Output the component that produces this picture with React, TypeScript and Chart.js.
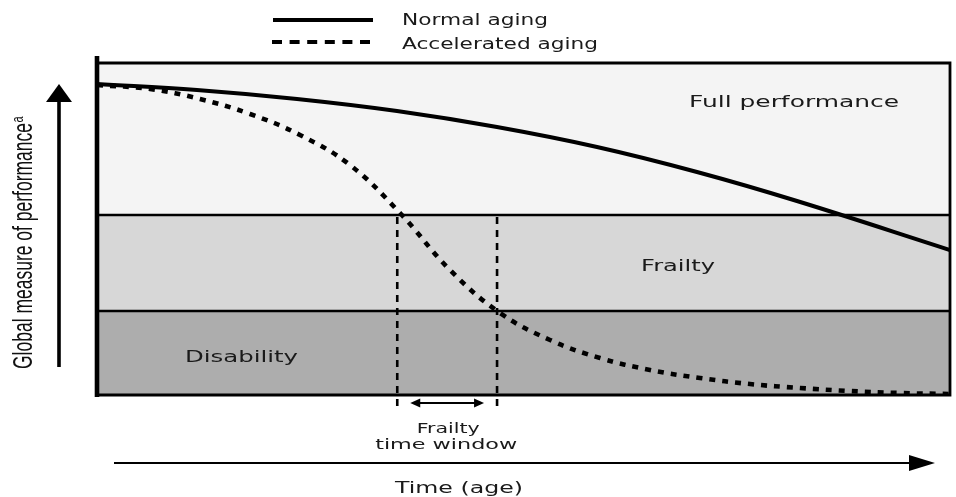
import { useEffect, useRef } from "react";
import { Chart, registerables } from "chart.js";

Chart.register(...registerables);

// ---- Data (x: relative time 0..100, y: global performance 0..100) ----
const NORMAL_X = [0, 11.72, 23.45, 35.17, 46.89, 58.62, 70.34, 82.06, 100];
const NORMAL_Y = [93.67, 91.87, 89.16, 85.54, 80.72, 74.7, 67.17, 58.43, 43.67];

const ACCEL_X = [0, 6.21, 12.08, 17.94, 23.8, 29.66, 35.52, 41.38, 47.25, 53.11, 58.97, 64.83, 70.69, 76.55, 82.42, 88.28, 94.14, 100];
const ACCEL_Y = [93.37, 92.17, 89.16, 84.64, 78.31, 69.28, 54.82, 37.65, 24.7, 16.57, 11.14, 7.53, 5.12, 3.31, 2.11, 1.2, 0.6, 0.3];

const SERIES_LABELS = ["Normal aging", "Accelerated aging"];
const BAND_LABELS = ["Full performance", "Frailty", "Disability"];
const BAND_TOPS = [100, 54.2, 25.3];
const BAND_BOTTOMS = [54.2, 25.3, 0];
const BAND_COLORS = ["#f4f4f4", "#d7d7d7", "#adadad"];
const FRAILTY_WINDOW = [35.2, 46.9];
const WINDOW_LABEL = ["Frailty", "time window"];
const X_TITLE = "Time (age)";
const Y_TITLE = "Global measure of performance";
const Y_TITLE_SUP = "a";

const TEXT_COLOR = "#1a1a1a";
const FONT = "'DejaVu Sans', Verdana, sans-serif";

function wideText(
  ctx: CanvasRenderingContext2D,
  text: string,
  x: number,
  y: number,
  size: number,
  width: number,
  align: "left" | "center"
) {
  ctx.save();
  ctx.font = `${size}px ${FONT}`;
  const w = ctx.measureText(text).width;
  const s = width / w;
  const left = align === "center" ? x - width / 2 : x;
  ctx.translate(left, y);
  ctx.scale(s, 1);
  ctx.textAlign = "left";
  ctx.textBaseline = "alphabetic";
  ctx.fillStyle = TEXT_COLOR;
  ctx.fillText(text, 0, 0);
  ctx.restore();
}

function arrowHead(ctx: CanvasRenderingContext2D, tipX: number, tipY: number, dx: number, dy: number, len: number, half: number) {
  const bx = tipX - dx * len;
  const by = tipY - dy * len;
  const px = -dy;
  const py = dx;
  ctx.beginPath();
  ctx.moveTo(tipX, tipY);
  ctx.lineTo(bx + px * half, by + py * half);
  ctx.lineTo(bx - px * half, by - py * half);
  ctx.closePath();
  ctx.fill();
}

const decorPlugin = {
  id: "frailtyDecor",
  beforeDatasetsDraw(chart: any) {
    const { ctx, chartArea, scales } = chart;
    const xs = scales.x;
    const ys = scales.y;
    const L = chartArea.left;
    const R = chartArea.right;
    ctx.save();
    BAND_TOPS.forEach((top, i) => {
      const yT = ys.getPixelForValue(top);
      const yB = ys.getPixelForValue(BAND_BOTTOMS[i]);
      ctx.fillStyle = BAND_COLORS[i];
      ctx.fillRect(L, yT, R - L, yB - yT);
    });
    ctx.strokeStyle = "#000";
    ctx.lineWidth = 2.5;
    for (let i = 1; i < BAND_TOPS.length; i++) {
      const y = ys.getPixelForValue(BAND_TOPS[i]);
      ctx.beginPath();
      ctx.moveTo(L, y);
      ctx.lineTo(R, y);
      ctx.stroke();
    }
    const yTop = ys.getPixelForValue(100);
    const yBot = ys.getPixelForValue(0);
    ctx.beginPath();
    ctx.moveTo(L, yTop);
    ctx.lineTo(R, yTop);
    ctx.lineTo(R, yBot);
    ctx.lineTo(L, yBot);
    ctx.lineWidth = 2.8;
    ctx.stroke();

    ctx.setLineDash([7, 6]);
    ctx.lineWidth = 2.6;
    FRAILTY_WINDOW.forEach((v) => {
      const x = xs.getPixelForValue(v);
      ctx.beginPath();
      ctx.moveTo(x, ys.getPixelForValue(BAND_TOPS[1]) + 2);
      ctx.lineTo(x, yBot + 11);
      ctx.stroke();
    });
    ctx.setLineDash([]);
    ctx.restore();
  },
  afterDatasetsDraw(chart: any) {
    const { ctx, chartArea, scales } = chart;
    const xs = scales.x;
    const ys = scales.y;
    const L = chartArea.left;
    const yBot = ys.getPixelForValue(0);
    ctx.save();
    ctx.strokeStyle = "#000";
    ctx.fillStyle = "#000";

    ctx.lineWidth = 4.6;
    ctx.beginPath();
    ctx.moveTo(L, chartArea.top - 7);
    ctx.lineTo(L, yBot + 2);
    ctx.stroke();

    const yFull = ys.getPixelForValue(100);
    wideText(ctx, BAND_LABELS[0], 689, yFull + 44, 16, 210, "left");
    wideText(ctx, BAND_LABELS[1], 641, 271, 16, 74, "left");
    wideText(ctx, BAND_LABELS[2], 185, 362, 16, 113, "left");

    const x0 = xs.getPixelForValue(FRAILTY_WINDOW[0]);
    const x1 = xs.getPixelForValue(FRAILTY_WINDOW[1]);
    const ay = yBot + 8;
    const a0 = x0 + 13;
    const a1 = x1 - 13;
    ctx.lineWidth = 2;
    ctx.beginPath();
    ctx.moveTo(a0 + 6, ay);
    ctx.lineTo(a1 - 6, ay);
    ctx.stroke();
    arrowHead(ctx, a0, ay, -1, 0, 10, 4.5);
    arrowHead(ctx, a1, ay, 1, 0, 10, 4.5);
    const cx = (x0 + x1) / 2;
    wideText(ctx, WINDOW_LABEL[0], cx + 1, 433, 14, 63, "center");
    wideText(ctx, WINDOW_LABEL[1], cx - 1, 449, 14, 142, "center");

    ctx.lineWidth = 2.2;
    ctx.beginPath();
    ctx.moveTo(114, 463);
    ctx.lineTo(912, 463);
    ctx.stroke();
    arrowHead(ctx, 935, 463, 1, 0, 26, 8);
    wideText(ctx, X_TITLE, 459, 493, 15, 128, "center");

    ctx.lineWidth = 3.6;
    ctx.beginPath();
    ctx.moveTo(59, 367);
    ctx.lineTo(59, 98);
    ctx.stroke();
    arrowHead(ctx, 59, 84, 0, -1, 18, 13);

    // rotated y title
    ctx.save();
    ctx.translate(32, 369);
    ctx.rotate(-Math.PI / 2);
    ctx.font = `17px 'Liberation Sans', Arial, sans-serif`;
    ctx.fillStyle = "#111";
    ctx.textAlign = "left";
    ctx.textBaseline = "alphabetic";
    const mw = ctx.measureText(Y_TITLE).width;
    const targetLen = 246;
    ctx.save();
    ctx.scale(targetLen / mw, 1.58);
    ctx.fillText(Y_TITLE, 0, 0);
    ctx.restore();
    ctx.save();
    ctx.translate(targetLen + 0.5, 0);
    ctx.scale(1, 1.5);
    ctx.font = `11px 'Liberation Sans', Arial, sans-serif`;
    ctx.fillText(Y_TITLE_SUP, 0, -6);
    ctx.restore();
    ctx.restore();

    // legend
    ctx.lineWidth = 4.2;
    ctx.beginPath();
    ctx.moveTo(273, 20);
    ctx.lineTo(373, 20);
    ctx.stroke();
    ctx.setLineDash([10, 7.6]);
    ctx.beginPath();
    ctx.moveTo(272, 42);
    ctx.lineTo(371, 42);
    ctx.stroke();
    ctx.setLineDash([]);
    wideText(ctx, SERIES_LABELS[0], 402, 25, 15, 146, "left");
    wideText(ctx, SERIES_LABELS[1], 402, 49, 15, 196, "left");

    ctx.restore();
  },
};

export default function App() {
  const ref = useRef<HTMLCanvasElement | null>(null);
  useEffect(() => {
    if (!ref.current) return;
    const chart = new Chart(ref.current, {
      type: "line",
      data: {
        datasets: [
          {
            label: SERIES_LABELS[0],
            data: NORMAL_X.map((x, i) => ({ x, y: NORMAL_Y[i] })),
            borderColor: "#000",
            borderWidth: 4,
            pointRadius: 0,
            tension: 0.4,
            fill: false,
          },
          {
            label: SERIES_LABELS[1],
            data: ACCEL_X.map((x, i) => ({ x, y: ACCEL_Y[i] })),
            borderColor: "#000",
            borderWidth: 4.6,
            borderDash: [6, 7],
            borderCapStyle: "butt",
            pointRadius: 0,
            tension: 0.4,
            fill: false,
          },
        ],
      },
      options: {
        responsive: false,
        animation: false,
        devicePixelRatio: 1,
        layout: { padding: { left: 97, right: 6, top: 63, bottom: 102 } },
        scales: {
          x: { type: "linear", min: 0, max: 100, display: false },
          y: { type: "linear", min: 0, max: 100, display: false },
        },
        plugins: {
          legend: { display: false },
          tooltip: { enabled: false },
        },
        events: [],
      },
      plugins: [decorPlugin],
    } as any);
    return () => chart.destroy();
  }, []);
  return (
    <canvas
      ref={ref}
      width={956}
      height={497}
      style={{ position: "absolute", left: 0, top: 0, width: 956, height: 497, background: "#fff" }}
    />
  );
}
